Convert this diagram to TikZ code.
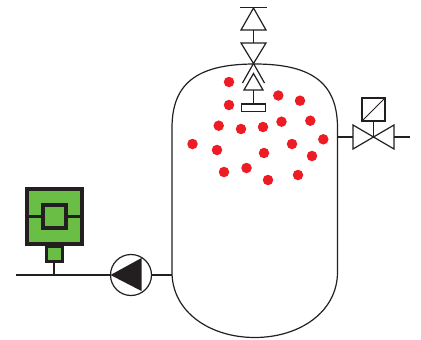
\documentclass[tikz,border=0pt]{standalone}
\definecolor{ink}{HTML}{231F20}
\definecolor{lime}{HTML}{6ABD45}
\definecolor{dotred}{HTML}{ED1C24}
\begin{document}
\begin{tikzpicture}[x=1pt,y=-1pt,
  pipe/.style={draw=ink,line width=1.2pt},
  thin part/.style={draw=ink,line width=1.2pt,fill=white,line join=miter},
  spot/.style={circle,fill=dotred,minimum size=10.5pt,inner sep=0pt,outer sep=0pt},
  sensor/.style={rectangle,draw=ink,fill=lime,line width=4pt,inner sep=0pt,outer sep=0pt}]
\useasboundingbox (0,0) rectangle (421,340);
% tank
\coordinate (tankL) at (172,275);
\coordinate (tankR) at (337.5,137);
\draw[pipe] (172,128) .. controls (172,85) and (195,64) .. (254.75,64)
  .. controls (314.5,64) and (337.5,85) .. (337.5,128) -- (337.5,272)
  .. controls (337.5,312) and (299.5,337.5) .. (254.75,337.5)
  .. controls (210,337.5) and (172,312) .. (172,272) -- cycle;
% top relief assembly
\draw[pipe] (240,7.5) -- (267,7.5);
\draw[thin part] (253.5,8) -- (266,30) -- (241,30) -- cycle;
\draw[pipe] (253.5,30) -- (253.5,43);
\draw[thin part,fill=none] (241,43) -- (266,43) -- (253.5,63.5) -- cycle;
\draw[pipe] (253.5,63.5) -- (242.5,83);
\draw[pipe] (253.5,63.5) -- (264.5,83);
\draw[thin part] (253.5,73.5) -- (263,90) -- (244,90) -- cycle;
\draw[pipe] (253.5,90) -- (253.5,104);
\node[rectangle,draw=ink,line width=1.2pt,fill=white,minimum width=24pt,minimum height=7.5pt,inner sep=0pt] (plug) at (253.5,107.7) {};
% dots
\foreach \n/\x/\y in {a/229/82,b/229/105,c/278.3/95.5,d/300/100.7,e/218.7/125.7,f/241/129,g/263/127,h/281.5/121.7,i/310.3/120.7,j/192.5/144,k/217/150,l/264/153,m/292/144,n/323.3/139.3,o/312/156,p/224/172,q/246.5/168,r/268/180,s/298/175}
  \node[spot] (dot\n) at (\x,\y) {};
% side valve
\node[rectangle,draw=ink,line width=1.2pt,minimum width=23pt,minimum height=23pt,inner sep=0pt,outer sep=0pt] (act) at (373.5,109.5) {};
\draw[pipe,line width=1pt] (act.south west) -- (act.north east);
\coordinate (vc) at (373.5,137);
\coordinate (vl) at (353,137);
\coordinate (vr) at (394,137);
\coordinate (vend) at (410,137);
\draw[pipe] (act.south) -- (vc);
\draw[thin part,fill=none] (vc) -- (353,125) -- (353,149) -- cycle;
\draw[thin part,fill=none] (vc) -- (394,125) -- (394,149) -- cycle;
\draw[pipe] (tankR) -- (vl);
\draw[pipe] (vr) -- (vend);
% pump
\coordinate (lineStart) at (16,275);
\node[circle,draw=ink,line width=1.2pt,fill=white,minimum size=41pt,inner sep=0pt,outer sep=0pt] (pump) at (131,275) {};
\fill[ink] (110.5,275) -- (141.5,258) -- (141.5,291) -- cycle;
\draw[pipe] (lineStart) -- (pump.west);
\draw[pipe] (pump.east) -- (tankL);
% sensor
\node[sensor,minimum width=55pt,minimum height=55pt] (head) at (54.5,216.5) {};
\draw[ink,line width=2.4pt] (head.west) -- (head.east);
\node[sensor,minimum width=23pt,minimum height=23pt] (core) at (54.5,216.5) {};
\node[sensor,line width=3pt,minimum width=16.5pt,minimum height=15pt,anchor=north] (foot) at (54.5,246) {};
\coordinate (tee) at (54,275);
\draw[pipe] (foot.south -| tee) -- (tee);
\end{tikzpicture}
\end{document}
